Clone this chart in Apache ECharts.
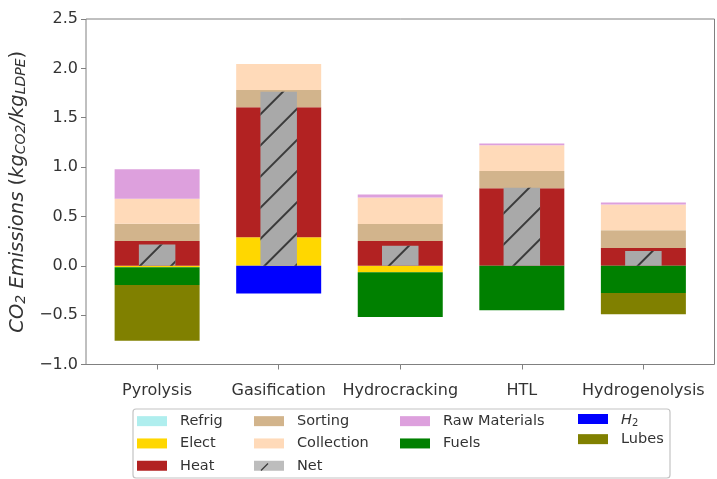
<!DOCTYPE html>
<html>
<head>
<meta charset="utf-8">
<script src="https://cdn.jsdelivr.net/npm/echarts@6/dist/echarts.min.js"></script>
<style>
  html, body { margin: 0; padding: 0; background: #fff; }
  #chart { width: 717px; height: 479px; }
</style>
</head>
<body>
<div id="chart"></div>
<script>
// Process routes on the x axis
const categories = ['Pyrolysis', 'Gasification', 'Hydrocracking', 'HTL', 'Hydrogenolysis'];

// Emission contributions per route (kg CO2 / kg LDPE)
const refrig       = [0, 0, 0, 0, 0];
const elect        = [-0.015, 0.29, -0.065, 0, 0];
const heat         = [0.25, 1.315, 0.25, 0.785, 0.18];
const sorting      = [0.177, 0.175, 0.173, 0.175, 0.18];
const collection   = [0.253, 0.263, 0.27, 0.26, 0.26];
const rawMaterials = [0.297, 0, 0.03, 0.02, 0.02];
const fuels        = [-0.18, 0, -0.455, -0.45, -0.275];
const h2           = [0, -0.28, 0, 0, 0];
const lubes        = [-0.565, 0, 0, 0, -0.215];
const net          = [0.215, 1.763, 0.203, 0.79, 0.15];

// Y axis ticks
const yTicks = [-1.0, -0.5, 0.0, 0.5, 1.0, 1.5, 2.0, 2.5];

const FONT = 'DejaVu Sans';
const xMin = -0.585, xMax = 4.585;

// value first so that stacking runs on the y dimension
const toRows = arr => arr.map((v, i) => [v, i]);

const stackDefs = [
  { name: 'Refrig',        data: refrig,       color: '#afeeee' },
  { name: 'Elect',         data: elect,        color: '#ffd700' },
  { name: 'Heat',          data: heat,         color: '#b22222' },
  { name: 'Sorting',       data: sorting,      color: '#d2b48c' },
  { name: 'Collection',    data: collection,   color: '#ffdab9' },
  { name: 'Raw Materials', data: rawMaterials, color: '#dda0dd' },
  { name: 'Fuels',         data: fuels,        color: '#008000' },
  { name: 'H2',            data: h2,           color: '#0000ff' },
  { name: 'Lubes',         data: lubes,        color: '#808000' }
];

const series = stackDefs.map(d => ({
  name: d.name,
  type: 'bar',
  xAxisIndex: 0,
  yAxisIndex: 0,
  stack: 'total',
  barWidth: 85,
  dimensions: ['val', 'pos'],
  encode: { x: 'pos', y: 'val' },
  data: toRows(d.data),
  itemStyle: { color: d.color },
  emphasis: { disabled: true }
}));

// hatched net bar drawn over the stacks
const hatch = {
  symbol: 'rect',
  symbolSize: 1,
  dashArrayX: [1, 0],
  dashArrayY: [1.2, 19.5],
  rotation: -Math.PI / 4,
  color: '#3a3a3a'
};

series.push({
  name: 'Net',
  type: 'bar',
  xAxisIndex: 1,
  yAxisIndex: 0,
  barWidth: 36.5,
  dimensions: ['val', 'pos'],
  encode: { x: 'pos', y: 'val' },
  data: toRows(net),
  z: 5,
  itemStyle: { color: '#a9a9a9', decal: hatch },
  emphasis: { disabled: true }
});

const legendBase = {
  orient: 'vertical',
  top: 410,
  padding: 0,
  itemGap: 0,
  itemWidth: 30,
  itemHeight: 10,
  icon: 'rect',
  selectedMode: false,
  textStyle: {
    fontFamily: FONT,
    fontSize: 14.5,
    color: '#333',
    lineHeight: 22.3,
    padding: [0, 0, 0, 8],
    rich: {
      it: { fontFamily: FONT, fontStyle: 'italic', fontSize: 14.5, color: '#333', verticalAlign: 'bottom', lineHeight: 18 },
      sub: { fontFamily: FONT, fontSize: 10, color: '#333', verticalAlign: 'bottom', lineHeight: 7 }
    }
  },
  formatter: n => n === 'H2' ? '{it|H}{sub|2}' : n
};

const chart = echarts.init(document.getElementById('chart'), null, { renderer: 'canvas' });

chart.setOption({
  animation: false,
  backgroundColor: '#ffffff',
  grid: {
    left: 86, top: 19, width: 628.5, height: 345.5,
    show: true, borderColor: '#808080', borderWidth: 1, backgroundColor: 'transparent'
  },
  xAxis: [
    {
      type: 'value', min: xMin, max: xMax, position: 'bottom',
      axisLine: { show: false, onZero: false },
      splitLine: { show: false },
      axisTick: { show: true, length: 5, inside: false, customValues: [0, 1, 2, 3, 4], lineStyle: { color: '#808080' } },
      axisLabel: {
        customValues: [0, 1, 2, 3, 4],
        formatter: v => categories[Math.round(v)] || '',
        fontFamily: FONT, fontSize: 16, color: '#333', margin: 18
      }
    },
    {
      type: 'value', min: xMin, max: xMax, show: false,
      axisLine: { onZero: false },
      splitLine: { show: false }
    }
  ],
  yAxis: {
    type: 'value', min: yTicks[0], max: yTicks[yTicks.length - 1], interval: 0.5, position: 'left',
    axisLine: { show: false, onZero: false },
    splitLine: { show: false },
    axisTick: { show: true, length: 5, lineStyle: { color: '#808080' } },
    axisLabel: {
      formatter: v => v.toFixed(1).replace('-', '\u2212'),
      fontFamily: FONT, fontSize: 16, color: '#333', margin: 8
    },
    name: '{i|CO}{s|2}{i| Emissions }{u|(}{i|kg}{s|CO2}{i|/kg}{s|LDPE}{u|)}',
    nameLocation: 'middle',
    nameRotate: 90,
    nameGap: 54,
    nameTextStyle: {
      rich: {
        i: { fontFamily: FONT, fontStyle: 'italic', fontSize: 19.5, color: '#333', verticalAlign: 'bottom', lineHeight: 23 },
        u: { fontFamily: FONT, fontSize: 19.5, color: '#333', verticalAlign: 'bottom', lineHeight: 23 },
        s: { fontFamily: FONT, fontStyle: 'italic', fontSize: 14, color: '#333', verticalAlign: 'bottom', lineHeight: 9 }
      }
    }
  },
  legend: [
    Object.assign({}, legendBase, { left: 137, data: ['Refrig', 'Elect', 'Heat'] }),
    Object.assign({}, legendBase, {
      left: 254,
      data: ['Sorting', 'Collection', { name: 'Net', itemStyle: { color: '#bdbdbd', decal: 'none' } }]
    }),
    Object.assign({}, legendBase, { left: 400, data: ['Raw Materials', 'Fuels'] }),
    Object.assign({}, legendBase, { left: 578, data: ['H2', 'Lubes'] })
  ],
  graphic: [
    {
      type: 'rect',
      shape: { x: 133, y: 409, width: 537, height: 69, r: 3 },
      style: { fill: 'transparent', stroke: '#c4c4c4', lineWidth: 1.2 },
      silent: true,
      z: 1
    },
    {
      // hatch stroke on the Net legend key
      type: 'line',
      shape: { x1: 261, y1: 470.5, x2: 268, y2: 463.5 },
      style: { stroke: '#3a3a3a', lineWidth: 1.2 },
      silent: true,
      z: 10
    }
  ],
  series: series
});
</script>
</body>
</html>
